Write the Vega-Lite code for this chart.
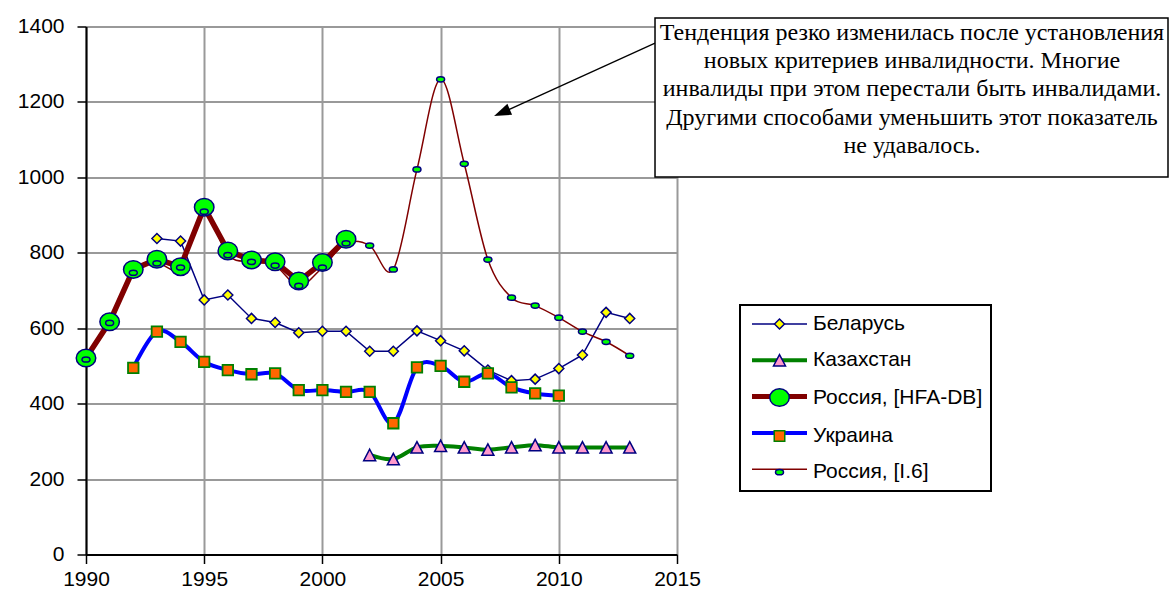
{
  "$schema": "https://vega.github.io/schema/vega-lite/v6.json",
  "width": 591,
  "height": 528,
  "autosize": {"type": "none"},
  "padding": {"left": 86, "top": 26.5, "right": 495, "bottom": 40.5},
  "background": "white",
  "config": {"view": {"stroke": null}, "font": "Liberation Sans"},
  "datasets": {
    "d": [
      {"series": "Беларусь", "year": 1993, "value": 838},
      {"series": "Беларусь", "year": 1994, "value": 831},
      {"series": "Беларусь", "year": 1995, "value": 675},
      {"series": "Беларусь", "year": 1996, "value": 688},
      {"series": "Беларусь", "year": 1997, "value": 626},
      {"series": "Беларусь", "year": 1998, "value": 615},
      {"series": "Беларусь", "year": 1999, "value": 588},
      {"series": "Беларусь", "year": 2000, "value": 592},
      {"series": "Беларусь", "year": 2001, "value": 592},
      {"series": "Беларусь", "year": 2002, "value": 539},
      {"series": "Беларусь", "year": 2003, "value": 539},
      {"series": "Беларусь", "year": 2004, "value": 593},
      {"series": "Беларусь", "year": 2005, "value": 567},
      {"series": "Беларусь", "year": 2006, "value": 540},
      {"series": "Беларусь", "year": 2007, "value": 489},
      {"series": "Беларусь", "year": 2008, "value": 461},
      {"series": "Беларусь", "year": 2009, "value": 465},
      {"series": "Беларусь", "year": 2010, "value": 493},
      {"series": "Беларусь", "year": 2011, "value": 529},
      {"series": "Беларусь", "year": 2012, "value": 642},
      {"series": "Беларусь", "year": 2013, "value": 626},
      {"series": "Казахстан", "year": 2002, "value": 264},
      {"series": "Казахстан", "year": 2003, "value": 253},
      {"series": "Казахстан", "year": 2004, "value": 284},
      {"series": "Казахстан", "year": 2005, "value": 288},
      {"series": "Казахстан", "year": 2006, "value": 284},
      {"series": "Казахстан", "year": 2007, "value": 278},
      {"series": "Казахстан", "year": 2008, "value": 284},
      {"series": "Казахстан", "year": 2009, "value": 290},
      {"series": "Казахстан", "year": 2010, "value": 284},
      {"series": "Казахстан", "year": 2011, "value": 284},
      {"series": "Казахстан", "year": 2012, "value": 284},
      {"series": "Казахстан", "year": 2013, "value": 284},
      {"series": "Россия, [HFA-DB]", "year": 1990, "value": 521},
      {"series": "Россия, [HFA-DB]", "year": 1991, "value": 617},
      {"series": "Россия, [HFA-DB]", "year": 1992, "value": 756},
      {"series": "Россия, [HFA-DB]", "year": 1993, "value": 783},
      {"series": "Россия, [HFA-DB]", "year": 1994, "value": 763},
      {"series": "Россия, [HFA-DB]", "year": 1995, "value": 921},
      {"series": "Россия, [HFA-DB]", "year": 1996, "value": 805},
      {"series": "Россия, [HFA-DB]", "year": 1997, "value": 781},
      {"series": "Россия, [HFA-DB]", "year": 1998, "value": 776},
      {"series": "Россия, [HFA-DB]", "year": 1999, "value": 725},
      {"series": "Россия, [HFA-DB]", "year": 2000, "value": 774},
      {"series": "Россия, [HFA-DB]", "year": 2001, "value": 836},
      {"series": "Украина", "year": 1992, "value": 495},
      {"series": "Украина", "year": 1993, "value": 591},
      {"series": "Украина", "year": 1994, "value": 564},
      {"series": "Украина", "year": 1995, "value": 511},
      {"series": "Украина", "year": 1996, "value": 489},
      {"series": "Украина", "year": 1997, "value": 478},
      {"series": "Украина", "year": 1998, "value": 480},
      {"series": "Украина", "year": 1999, "value": 436},
      {"series": "Украина", "year": 2000, "value": 436},
      {"series": "Украина", "year": 2001, "value": 431},
      {"series": "Украина", "year": 2002, "value": 431},
      {"series": "Украина", "year": 2003, "value": 348},
      {"series": "Украина", "year": 2004, "value": 496},
      {"series": "Украина", "year": 2005, "value": 500},
      {"series": "Украина", "year": 2006, "value": 458},
      {"series": "Украина", "year": 2007, "value": 480},
      {"series": "Украина", "year": 2008, "value": 443},
      {"series": "Украина", "year": 2009, "value": 427},
      {"series": "Украина", "year": 2010, "value": 421},
      {"series": "Россия, [I.6]", "year": 1990, "value": 517},
      {"series": "Россия, [I.6]", "year": 1991, "value": 614},
      {"series": "Россия, [I.6]", "year": 1992, "value": 747},
      {"series": "Россия, [I.6]", "year": 1993, "value": 772},
      {"series": "Россия, [I.6]", "year": 1994, "value": 761},
      {"series": "Россия, [I.6]", "year": 1995, "value": 909},
      {"series": "Россия, [I.6]", "year": 1996, "value": 794},
      {"series": "Россия, [I.6]", "year": 1997, "value": 776},
      {"series": "Россия, [I.6]", "year": 1998, "value": 766},
      {"series": "Россия, [I.6]", "year": 1999, "value": 712},
      {"series": "Россия, [I.6]", "year": 2000, "value": 761},
      {"series": "Россия, [I.6]", "year": 2001, "value": 825},
      {"series": "Россия, [I.6]", "year": 2002, "value": 819},
      {"series": "Россия, [I.6]", "year": 2003, "value": 756},
      {"series": "Россия, [I.6]", "year": 2004, "value": 1021},
      {"series": "Россия, [I.6]", "year": 2005, "value": 1260},
      {"series": "Россия, [I.6]", "year": 2006, "value": 1036},
      {"series": "Россия, [I.6]", "year": 2007, "value": 782},
      {"series": "Россия, [I.6]", "year": 2008, "value": 681},
      {"series": "Россия, [I.6]", "year": 2009, "value": 660},
      {"series": "Россия, [I.6]", "year": 2010, "value": 628},
      {"series": "Россия, [I.6]", "year": 2011, "value": 591},
      {"series": "Россия, [I.6]", "year": 2012, "value": 564},
      {"series": "Россия, [I.6]", "year": 2013, "value": 527}
    ]
  },
  "layer": [
    {
      "data": {"name": "d"},
      "transform": [{"filter": {"field": "series", "equal": "Беларусь"}}],
      "mark": {"type": "line", "strokeWidth": 1.5, "interpolate": "linear"},
      "encoding": {
        "x": {"field": "year", "type": "quantitative", "scale": {"domain": [1990, 2015], "nice": false, "zero": false},
          "axis": {"values": [1990, 1995, 2000, 2005, 2010, 2015], "format": "d", "title": null, "grid": true, "gridColor": "#999999", "gridWidth": 2, "domainColor": "#000000", "domainWidth": 2, "tickColor": "#000000", "tickWidth": 1.5, "tickSize": 9, "labelFont": "Liberation Sans", "labelFontSize": 21, "labelColor": "#000000", "labelPadding": 5, "labelFlush": false, "labelOverlap": false}},
        "y": {"field": "value", "type": "quantitative", "scale": {"domain": [0, 1400], "nice": false},
          "axis": {"values": [0, 200, 400, 600, 800, 1000, 1200, 1400], "format": "d", "title": null, "grid": true, "gridColor": "#999999", "gridWidth": 2, "domainColor": "#000000", "domainWidth": 2, "tickColor": "#000000", "tickWidth": 1.5, "tickSize": 9, "labelFont": "Liberation Sans", "labelFontSize": 21, "labelColor": "#000000", "labelPadding": 13, "labelOverlap": false}},
        "color": {"field": "series", "type": "nominal",
          "scale": {"domain": ["Беларусь", "Казахстан", "Россия, [HFA-DB]", "Украина", "Россия, [I.6]"], "range": ["#000080", "#008000", "#800000", "#0000FF", "#800000"]},
          "legend": {"orient": "none", "legendX": 654, "legendY": 278.5, "direction": "vertical", "title": null,
            "symbolType": "M-5.5,-0.3H5.5V0.3H-5.5Z", "symbolSize": 100, "symbolStrokeWidth": 0, "symbolOffset": 20.5,
            "labelExpr": "' '",
            "labelFont": "Liberation Sans", "labelFontSize": 21, "labelColor": "transparent", "labelOffset": 23, "labelLimit": 400,
            "rowPadding": 14.3, "padding": 8.5,
            "encode": {"symbols": {"update": {
              "shape": {"signal": "['M-5.5,-0.15H5.5V0.15H-5.5Z','M-5.5,-0.4H5.5V0.4H-5.5Z','M-5.5,-0.5H5.5V0.5H-5.5Z','M-5.5,-0.4H5.5V0.4H-5.5Z','M-5.5,-0.15H5.5V0.15H-5.5Z'][indexof(['Беларусь','Казахстан','Россия, [HFA-DB]','Украина','Россия, [I.6]'], datum.value)]"},
              "fill": {"signal": "['#000080','#008000','#800000','#0000FF','#800000'][indexof(['Беларусь','Казахстан','Россия, [HFA-DB]','Украина','Россия, [I.6]'], datum.value)]"},
              "fillOpacity": {"value": 1}
            }}}}}
      }
    },
    {
      "data": {"name": "d"},
      "transform": [{"filter": {"field": "series", "equal": "Казахстан"}}],
      "mark": {"type": "line", "strokeWidth": 4, "interpolate": "cardinal"},
      "encoding": {
        "x": {"field": "year", "type": "quantitative"},
        "y": {"field": "value", "type": "quantitative"},
        "color": {"field": "series", "type": "nominal", "legend": null}
      }
    },
    {
      "data": {"name": "d"},
      "transform": [{"filter": {"field": "series", "equal": "Россия, [HFA-DB]"}}],
      "mark": {"type": "line", "strokeWidth": 5.5, "interpolate": "linear"},
      "encoding": {
        "x": {"field": "year", "type": "quantitative"},
        "y": {"field": "value", "type": "quantitative"},
        "color": {"field": "series", "type": "nominal", "legend": null}
      }
    },
    {
      "data": {"name": "d"},
      "transform": [{"filter": {"field": "series", "equal": "Украина"}}],
      "mark": {"type": "line", "strokeWidth": 4, "interpolate": "cardinal"},
      "encoding": {
        "x": {"field": "year", "type": "quantitative"},
        "y": {"field": "value", "type": "quantitative"},
        "color": {"field": "series", "type": "nominal", "legend": null}
      }
    },
    {
      "data": {"name": "d"},
      "transform": [{"filter": {"field": "series", "equal": "Россия, [I.6]"}}],
      "mark": {"type": "line", "strokeWidth": 1.5, "interpolate": "cardinal"},
      "encoding": {
        "x": {"field": "year", "type": "quantitative"},
        "y": {"field": "value", "type": "quantitative"},
        "color": {"field": "series", "type": "nominal", "legend": null}
      }
    },
    {
      "data": {"name": "d"},
      "transform": [{"filter": {"field": "series", "equal": "Беларусь"}}],
      "mark": {"type": "point", "filled": true, "opacity": 1, "size": 100, "strokeWidth": 1.5},
      "encoding": {
        "x": {"field": "year", "type": "quantitative"},
        "y": {"field": "value", "type": "quantitative"},
        "fill": {"field": "series", "type": "nominal",
          "scale": {"domain": ["Россия, [I.6]", "Украина", "Россия, [HFA-DB]", "Казахстан", "Беларусь"], "range": ["#00FF00", "#FF6600", "#00FF00", "#FF99CC", "#FFFF00"]},
          "legend": {"orient": "none", "legendX": 654, "legendY": 278.5, "direction": "vertical", "title": null,
            "values": ["Беларусь", "Казахстан", "Россия, [HFA-DB]", "Украина", "Россия, [I.6]"],
            "symbolSize": 100, "symbolStrokeWidth": 1.5, "symbolOpacity": 1, "symbolOffset": 20.5,
            "labelFont": "Liberation Sans", "labelFontSize": 21, "labelColor": "#000000", "labelOffset": 23, "labelLimit": 400,
            "rowPadding": 14.3, "padding": 8.5, "strokeColor": "#000000",
            "encode": {"legend": {"update": {"strokeWidth": {"value": 2}}}}}},
        "shape": {"field": "series", "type": "nominal",
          "scale": {"domain": ["Россия, [I.6]", "Украина", "Россия, [HFA-DB]", "Казахстан", "Беларусь"],
            "range": ["M-0.8,0A0.8,0.52,0,1,0,0.8,0A0.8,0.52,0,1,0,-0.8,0Z", "M-1.05,-1.05H1.05V1.05H-1.05Z", "M-1.95,0A1.95,1.75,0,1,0,1.95,0A1.95,1.75,0,1,0,-1.95,0Z", "M0,-1.14L1.2,1.14L-1.2,1.14Z", "M-1,0L0,-1L1,0L0,1Z"]},
          "legend": {"orient": "none", "legendX": 654, "legendY": 278.5, "direction": "vertical", "title": null,
            "values": ["Беларусь", "Казахстан", "Россия, [HFA-DB]", "Украина", "Россия, [I.6]"],
            "symbolSize": 100, "symbolStrokeWidth": 1.5, "symbolOpacity": 1, "symbolOffset": 20.5,
            "labelFont": "Liberation Sans", "labelFontSize": 21, "labelColor": "#000000", "labelOffset": 23, "labelLimit": 400,
            "rowPadding": 14.3, "padding": 8.5, "strokeColor": "#000000",
            "encode": {"legend": {"update": {"strokeWidth": {"value": 2}}}}}},
        "stroke": {"field": "series", "type": "nominal",
          "scale": {"domain": ["Россия, [I.6]", "Украина", "Россия, [HFA-DB]", "Казахстан", "Беларусь"], "range": ["#000080", "#008000", "#000080", "#000080", "#000080"]},
          "legend": {"orient": "none", "legendX": 654, "legendY": 278.5, "direction": "vertical", "title": null,
            "values": ["Беларусь", "Казахстан", "Россия, [HFA-DB]", "Украина", "Россия, [I.6]"],
            "symbolSize": 100, "symbolStrokeWidth": 1.5, "symbolOpacity": 1, "symbolOffset": 20.5,
            "labelFont": "Liberation Sans", "labelFontSize": 21, "labelColor": "#000000", "labelOffset": 23, "labelLimit": 400,
            "rowPadding": 14.3, "padding": 8.5, "strokeColor": "#000000",
            "encode": {"legend": {"update": {"strokeWidth": {"value": 2}}}}}}
      }
    },
    {
      "data": {"name": "d"},
      "transform": [{"filter": {"field": "series", "equal": "Казахстан"}}],
      "mark": {"type": "point", "filled": true, "opacity": 1, "size": 100, "strokeWidth": 1.5},
      "encoding": {
        "x": {"field": "year", "type": "quantitative"},
        "y": {"field": "value", "type": "quantitative"},
        "fill": {"field": "series", "type": "nominal", "legend": null},
        "shape": {"field": "series", "type": "nominal", "legend": null},
        "stroke": {"field": "series", "type": "nominal", "legend": null}
      }
    },
    {
      "data": {"name": "d"},
      "transform": [{"filter": {"field": "series", "equal": "Россия, [HFA-DB]"}}],
      "mark": {"type": "point", "filled": true, "opacity": 1, "size": 100, "strokeWidth": 1.5},
      "encoding": {
        "x": {"field": "year", "type": "quantitative"},
        "y": {"field": "value", "type": "quantitative"},
        "fill": {"field": "series", "type": "nominal", "legend": null},
        "shape": {"field": "series", "type": "nominal", "legend": null},
        "stroke": {"field": "series", "type": "nominal", "legend": null}
      }
    },
    {
      "data": {"name": "d"},
      "transform": [{"filter": {"field": "series", "equal": "Украина"}}],
      "mark": {"type": "point", "filled": true, "opacity": 1, "size": 100, "strokeWidth": 1.8},
      "encoding": {
        "x": {"field": "year", "type": "quantitative"},
        "y": {"field": "value", "type": "quantitative"},
        "fill": {"field": "series", "type": "nominal", "legend": null},
        "shape": {"field": "series", "type": "nominal", "legend": null},
        "stroke": {"field": "series", "type": "nominal", "legend": null}
      }
    },
    {
      "data": {"name": "d"},
      "transform": [{"filter": {"field": "series", "equal": "Россия, [I.6]"}}],
      "mark": {"type": "point", "filled": true, "opacity": 1, "size": 100, "strokeWidth": 1.5},
      "encoding": {
        "x": {"field": "year", "type": "quantitative"},
        "y": {"field": "value", "type": "quantitative"},
        "fill": {"field": "series", "type": "nominal", "legend": null},
        "shape": {"field": "series", "type": "nominal", "legend": null},
        "stroke": {"field": "series", "type": "nominal", "legend": null}
      }
    },
    {
      "data": {"values": [{}]},
      "mark": {"type": "rule", "color": "#000000", "strokeWidth": 1.3},
      "encoding": {
        "x": {"datum": 2014.07, "type": "quantitative"},
        "y": {"datum": 1356, "type": "quantitative"},
        "x2": {"datum": 2007.66},
        "y2": {"datum": 1173.3}
      }
    },
    {
      "data": {"values": [{}]},
      "mark": {"type": "point", "filled": true, "opacity": 1, "color": "#000000", "shape": "M0,-1.2L0.7,0.8L-0.7,0.8Z", "size": 289, "angle": 247},
      "encoding": {
        "x": {"datum": 2007.66, "type": "quantitative"},
        "y": {"datum": 1173.3, "type": "quantitative"}
      }
    },
    {
      "data": {"values": [{}]},
      "mark": {"type": "rect", "fill": "#FFFFFF", "stroke": "#000000", "strokeWidth": 1.5},
      "encoding": {
        "x": {"datum": 2014.07, "type": "quantitative"},
        "x2": {"datum": 2035.77},
        "y": {"datum": 1422.5, "type": "quantitative"},
        "y2": {"datum": 1001}
      }
    },
    {
      "data": {"values": [{}]},
      "mark": {"type": "text", "text": ["Тенденция резко изменилась после установления", "новых критериев инвалидности. Многие", "инвалиды при этом перестали быть инвалидами.", "Другими способами уменьшить этот показатель", "не удавалось."],
        "font": "Liberation Serif", "fontSize": 24, "lineHeight": 28.25, "align": "center", "baseline": "middle", "color": "#000000"},
      "encoding": {
        "x": {"datum": 2024.94, "type": "quantitative"},
        "y": {"datum": 1382.8, "type": "quantitative"}
      }
    }
  ]
}
